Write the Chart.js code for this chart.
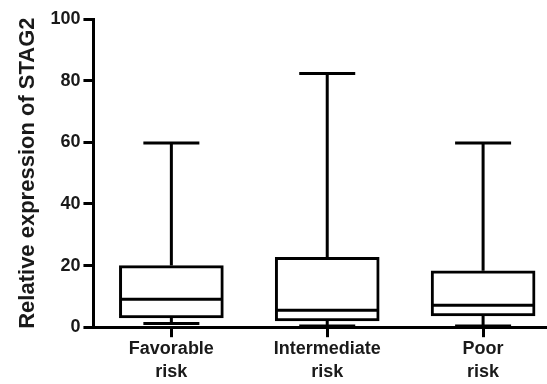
<!DOCTYPE html>
<html>
<head>
<meta charset="utf-8">
<script src="https://cdn.jsdelivr.net/npm/chart.js@4/dist/chart.umd.min.js"></script>
<style>
  html, body { margin: 0; padding: 0; background: #fff; }
  #wrap { width: 547px; height: 384px; }
</style>
</head>
<body>
<div id="wrap"><canvas id="myChart"></canvas></div>
<script>
// Risk groups and box plot values
var groups = [['Favorable', 'risk'], ['Intermediate', 'risk'], ['Poor', 'risk']];
var xPos = [1, 2, 3];
var minVals = [1.2, 0.4, 0.4];
var q1Vals = [3.0, 2.0, 3.7];
var medianVals = [9.1, 5.5, 7.1];
var q3Vals = [20.0, 22.7, 18.3];
var maxVals = [59.8, 82.3, 59.8];
var yTicks = [0, 20, 40, 60, 80, 100];

// Whiskers, caps and medians drawn on top of the floating bars
var boxPlotLines = {
    id: 'boxPlotLines',
    afterDatasetsDraw: function(chart) {
        let ctx = chart.ctx;
        let xs = chart.scales.x;
        let ys = chart.scales.y;
        let meta = chart.getDatasetMeta(0);
        ctx.save();
        ctx.strokeStyle = '#000';
        ctx.lineWidth = 3;
        ctx.lineCap = 'butt';
        for (let i = 0; i < xPos.length; i++) {
            let cx = xs.getPixelForValue(xPos[i]);
            let half = meta.data[i].width / 2;
            let capHalf = 28;
            let yMin = ys.getPixelForValue(minVals[i]);
            let yQ1 = ys.getPixelForValue(q1Vals[i]);
            let yMed = ys.getPixelForValue(medianVals[i]);
            let yQ3 = ys.getPixelForValue(q3Vals[i]);
            let yMax = ys.getPixelForValue(maxVals[i]);
            ctx.beginPath();
            // upper whisker + cap
            ctx.moveTo(cx, yQ3); ctx.lineTo(cx, yMax);
            ctx.moveTo(cx - capHalf, yMax); ctx.lineTo(cx + capHalf, yMax);
            // lower whisker + cap
            ctx.moveTo(cx, yQ1); ctx.lineTo(cx, yMin);
            ctx.moveTo(cx - capHalf, yMin); ctx.lineTo(cx + capHalf, yMin);
            // median
            ctx.moveTo(cx - half + 1, yMed); ctx.lineTo(cx + half - 1, yMed);
            ctx.stroke();
        }
        ctx.restore();
    }
};

let ctx = document.getElementById('myChart');
let myChart = new Chart(ctx, {
    type: 'bar',
    data: {
        datasets: [{
            label: 'STAG2',
            data: xPos.map((x, i) => ({ x: x, y: [q1Vals[i], q3Vals[i]] })),
            backgroundColor: '#fff',
            borderColor: '#000',
            borderWidth: 3,
            borderSkipped: false,
            barThickness: 104
        }]
    },
    options: {
        responsive: true,
        maintainAspectRatio: false,
        animation: false,
        layout: {
            padding: { left: 4, right: 0, top: 19, bottom: 0 }
        },
        plugins: {
            legend: { display: false },
            tooltip: { enabled: false }
        },
        scales: {
            x: {
                type: 'linear',
                offset: false,
                min: 0.5,
                max: 3.41,
                afterBuildTicks: function(scale) {
                    scale.ticks = xPos.map(v => ({ value: v }));
                },
                grid: {
                    offset: false,
                    drawOnChartArea: false,
                    tickLength: 10,
                    tickWidth: 3,
                    tickColor: '#000'
                },
                border: { color: '#000', width: 3 },
                ticks: {
                    color: '#1a1a1a',
                    padding: 0,
                    maxRotation: 0,
                    autoSkip: false,
                    font: { family: 'Liberation Sans, Arial, sans-serif', size: 18, weight: 'bold', lineHeight: 1.3 },
                    callback: function(value) {
                        let i = xPos.indexOf(value);
                        return i >= 0 ? groups[i] : '';
                    }
                }
            },
            y: {
                min: 0,
                max: 100,
                afterBuildTicks: function(scale) {
                    scale.ticks = yTicks.map(v => ({ value: v }));
                },
                grid: {
                    drawOnChartArea: false,
                    tickLength: 10,
                    tickWidth: 3,
                    tickColor: '#000'
                },
                border: { color: '#000', width: 3 },
                ticks: {
                    color: '#1a1a1a',
                    padding: 3,
                    font: { family: 'Liberation Sans, Arial, sans-serif', size: 18, weight: 'bold' }
                },
                title: {
                    display: true,
                    text: 'Relative expression of STAG2',
                    color: '#1a1a1a',
                    padding: { top: 11, bottom: 6 },
                    font: { family: 'Liberation Sans, Arial, sans-serif', size: 22, weight: 'bold' }
                }
            }
        }
    },
    plugins: [boxPlotLines]
});
</script>
</body>
</html>
